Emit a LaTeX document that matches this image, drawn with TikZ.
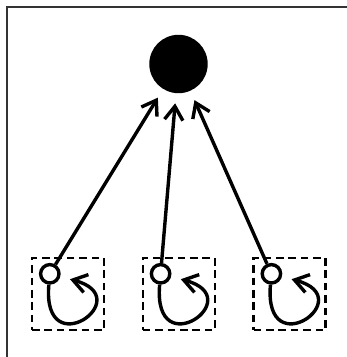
\documentclass[tikz,border=0pt]{standalone}
\usetikzlibrary{positioning}
\usetikzlibrary{arrows.meta}

\begin{document}
\begin{tikzpicture}
	[x=0.25mm, y=0.25mm,
	hub/.style={circle, fill=black, minimum size=14.6mm, inner sep=0pt},
	state/.style={circle, draw, fill=white, line width=0.85mm, minimum size=4.6mm, inner sep=0pt},
	group/.style={draw, dash pattern=on 1.9mm off 1.2mm, line width=0.6mm, minimum size=18mm, inner sep=0pt},
	link/.style={->, line width=0.85mm, shorten >=2.5mm},
	>={Straight Barb[length=3.4mm, width=4.6mm]}]

	\useasboundingbox (0,0) rectangle (347,357);
	\draw [line width=0.3mm, black!80] (7,0) |- (347,350);

	% nodes
	\node [hub] (top) at (178.5,293) {};
	\node [group] (g1) at (68,63) {};
	\node [group, right=9.1mm of g1] (g2) {};
	\node [group, right=9.1mm of g2] (g3) {};
	\node [state] (s1) at ([shift={(19,-17)}]g1.north west) {};
	\node [state] (s2) at ([shift={(19,-17)}]g2.north west) {};
	\node [state] (s3) at ([shift={(19,-17)}]g3.north west) {};

	% straight arrows
	\draw [link] (s1) -- (top);
	\draw [link] (s2) -- (top);
	\draw [link] (s3) -- (top);

	% self loops
	\draw [link] (s1) to[out=-95, in=-15, min distance=20.5mm] (s1);
	\draw [link] (s2) to[out=-95, in=-15, min distance=20.5mm] (s2);
	\draw [link] (s3) to[out=-95, in=-15, min distance=20.5mm] (s3);
\end{tikzpicture}
\end{document}
